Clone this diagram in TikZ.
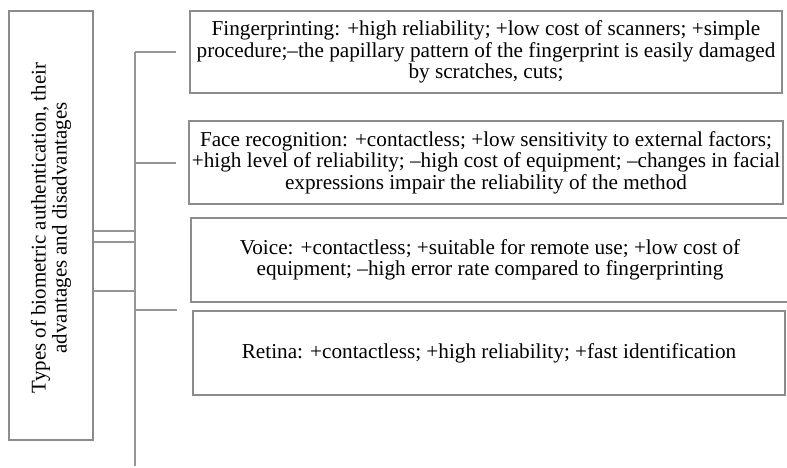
\documentclass[tikz,border=0pt]{standalone}
\usepackage{fontspec}
\setmainfont{Liberation Serif}
\definecolor{linegray}{RGB}{150,150,150}
\definecolor{boxgray}{RGB}{140,140,140}
\begin{document}
\begin{tikzpicture}[x=1bp,y=-1bp,
  box/.style={draw=boxgray, line width=1.3bp, inner sep=0pt},
  txt/.style={align=center, inner sep=0pt, font=\fontsize{21.3}{21.5}\selectfont},
  conn/.style={draw=linegray, line width=2bp}]
\useasboundingbox (0,0) rectangle (787,468);

% left heading box
\node[box, minimum width=84bp, minimum height=429bp] (head) at (51,225.5) {};
\node[txt, rotate=90, font=\fontsize{21}{21}\selectfont] (headtxt) at (51,228)
  {Types of biometric authentication, their\\advantages and disadvantages};

% category boxes
\node[box, minimum width=592bp, minimum height=82bp] (fp) at (486,52) {};
\node[txt] (fptxt) at (486,52)
  {Fingerprinting: +high reliability; +low cost of scanners; +simple\\
   procedure;–the papillary pattern of the fingerprint is easily damaged\\
   by scratches, cuts;};

\node[box, minimum width=594bp, minimum height=83bp] (face) at (486,162.5) {};
\node[txt] (facetxt) at (486,162.5)
  {Face recognition: +contactless; +low sensitivity to external factors;\\
   +high level of reliability; –high cost of equipment; –changes in facial\\
   expressions impair the reliability of the method};

\node[box, minimum width=600bp, minimum height=84bp] (voice) at (491,260) {};
\node[txt] (voicetxt) at (490,260)
  {Voice: +contactless; +suitable for remote use; +low cost of\\
   equipment; –high error rate compared to fingerprinting};

\node[box, minimum width=592bp, minimum height=84bp] (retina) at (489,353) {};
\node[txt] (retinatxt) at (489,353)
  {Retina: +contactless; +high reliability; +fast identification};

% trunk and branches
\coordinate (ttop) at (135,52);
\coordinate (tbot) at (135,466);
\coordinate (bfp) at (176,52);
\coordinate (bface) at (176,163);
\coordinate (bret) at (177,310);
\coordinate (j1) at (135,231);
\coordinate (j2) at (135,242);
\coordinate (j3) at (135,291);

\draw[conn] (ttop) -- (tbot);
\draw[conn] (ttop) -- (bfp);
\draw[conn] (bface -| ttop) -- (bface);
\draw[conn] (bret -| ttop) -- (bret);
\draw[conn] (j1 -| head.east) -- (j1);
\draw[conn] (j2 -| head.east) -- (j2);
\draw[conn] (j3 -| head.east) -- (j3);
\end{tikzpicture}
\end{document}
